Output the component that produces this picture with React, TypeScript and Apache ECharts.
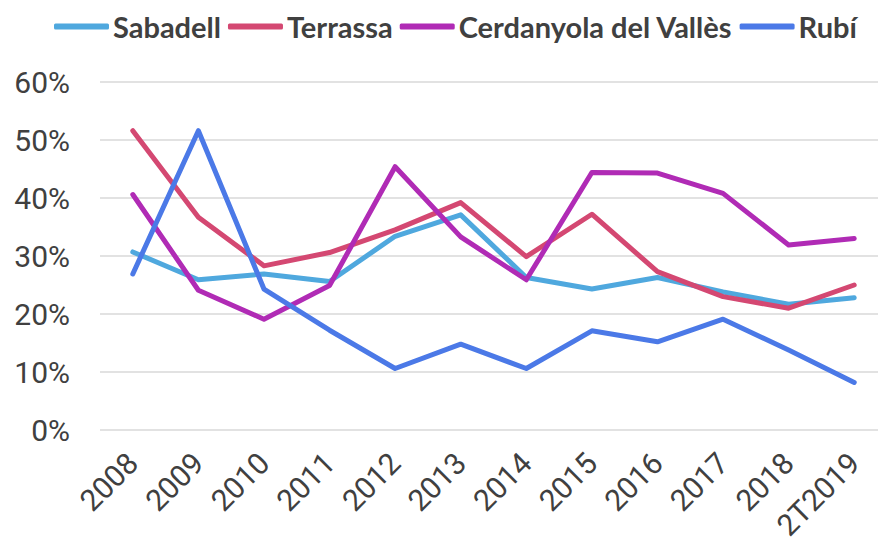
import React, { useEffect, useRef } from "react";
import * as echarts from "echarts";

const categories = ["2008", "2009", "2010", "2011", "2012", "2013", "2014", "2015", "2016", "2017", "2018", "2T2019"];
const sabadell = [30.7, 25.9, 26.9, 25.6, 33.4, 37.1, 26.3, 24.3, 26.3, 23.8, 21.7, 22.8];
const terrassa = [51.6, 36.7, 28.3, 30.6, 34.5, 39.2, 29.9, 37.2, 27.3, 23.0, 21.0, 25.0];
const cerdanyola = [40.6, 24.1, 19.1, 24.9, 45.4, 33.3, 25.9, 44.4, 44.3, 40.8, 31.9, 33.0];
const rubi = [26.9, 51.6, 24.3, 17.2, 10.6, 14.8, 10.6, 17.1, 15.2, 19.1, 13.8, 8.2];
const seriesNames = ["Sabadell", "Terrassa", "Cerdanyola del Vallès", "Rubí"];
const colors = ["#4FA8DE", "#D44872", "#B02BB5", "#4B79E7"];

export default function App() {
  const ref = useRef<HTMLDivElement>(null);
  useEffect(() => {
    if (!ref.current) return;
    const chart = echarts.init(ref.current, null, { renderer: "svg" });
    const datasets = [sabadell, terrassa, cerdanyola, rubi];
    chart.setOption({
      animation: false,
      color: colors,
      legend: {
        left: 49,
        top: 7,
        itemWidth: 55,
        itemHeight: 6,
        itemGap: 7,
        icon: "roundRect",
        textStyle: { fontFamily: "Lato", fontWeight: "bold", fontSize: 29, color: "#404040", padding: [0, 0, 0, -1] },
        data: seriesNames,
      },
      grid: { left: 100, right: 0, top: 82, bottom: 116, containLabel: false, outerBoundsMode: "none" },
      xAxis: {
        type: "category",
        data: categories,
        boundaryGap: true,
        axisLine: { show: false },
        axisTick: { show: false },
        axisLabel: {
          rotate: 45,
          interval: 0,
          margin: 28,
          fontFamily: "Roboto",
          fontSize: 30,
          color: "#404040",
        },
      },
      yAxis: {
        type: "value",
        min: 0,
        max: 60,
        interval: 10,
        axisLine: { show: false },
        axisTick: { show: false },
        splitLine: { lineStyle: { color: "#D9D9D9", width: 1.5 } },
        axisLabel: {
          formatter: "{value}%",
          margin: 30,
          fontFamily: "Roboto",
          fontSize: 30,
          color: "#404040",
        },
      },
      series: datasets.map((d, i) => ({
        name: seriesNames[i],
        type: "line",
        data: d,
        showSymbol: false,
        symbol: "none",
        lineStyle: { width: 5, color: colors[i], cap: "round", join: "round" },
        itemStyle: { color: colors[i] },
      })),
    });
    return () => chart.dispose();
  }, []);
  return (
    <div style={{ position: "absolute", left: 0, top: 0, width: 878, height: 546, overflow: "hidden" }}>
      <div ref={ref} style={{ width: 887, height: 546 }} />
    </div>
  );
}
